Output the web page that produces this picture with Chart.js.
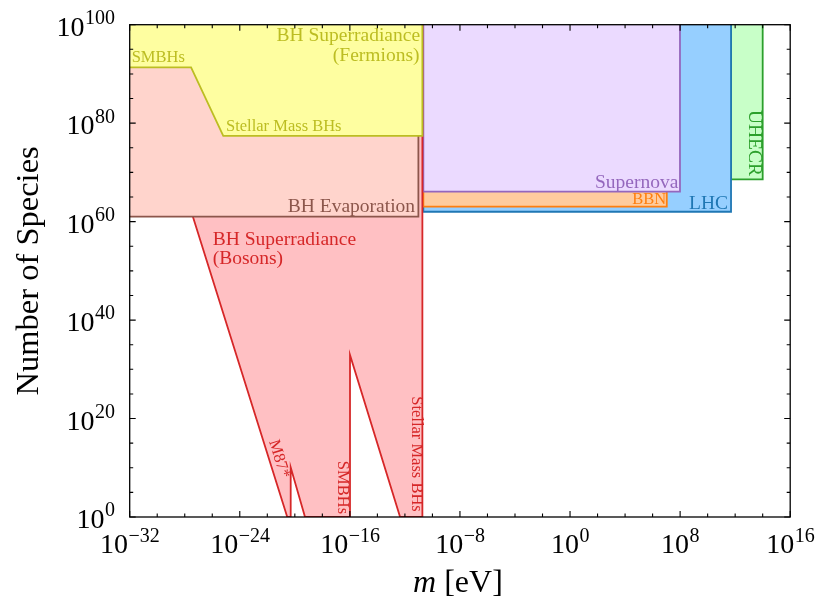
<!DOCTYPE html>
<html>
<head>
<meta charset="utf-8">
<title>Number of Species vs m</title>
<script src="https://cdn.jsdelivr.net/npm/chart.js@4.4.1/dist/chart.umd.min.js"></script>
<style>
  html, body { margin: 0; padding: 0; background: #fff; }
  canvas { display: block; }
</style>
</head>
<body>
<canvas id="speciesChart" width="830" height="615" style="width:830px;height:615px"></canvas>
<script>
// all values are log10 exponents: x is m in eV, y is number of species
const xTickExps = [-32, -24, -16, -8, 0, 8, 16];
const yTickExps = [0, 20, 40, 60, 80, 100];
const xMinorStep = 2;
const yMinorStep = 5;

const fermionsX = [-32, -27.54, -25.2, -10.73, -10.73];
const fermionsY = [91.35, 91.35, 77.4, 77.4, 100];

const evaporationX = [-32, -11.02, -11.02];
const evaporationY = [61.0, 61.0, 100];

const bosonsX = [-31.79, -20.55, -20.30, -20.30, -19.26, -15.99, -15.99, -12.35, -10.73, -10.73];
const bosonsY = [100, 0, 0, 10.1, 0, 0, 32.9, 0, 0, 100];

const supernovaX = [-10.66, -10.66, 7.99, 7.99];
const supernovaY = [100, 66.08, 66.08, 100];

const bbnX = [-10.66, -10.66, 7.03, 7.03];
const bbnY = [100, 63.03, 63.03, 100];

const lhcX = [-10.66, -10.66, 11.70, 11.70];
const lhcY = [100, 62.0, 62.0, 100];

const uhecrX = [11.70, 11.70, 14.0, 14.0];
const uhecrY = [100, 68.6, 68.6, 100];

const FONT = "'Liberation Serif', 'DejaVu Serif', serif";

const OLIVE = '#bcbd22', BROWN = '#8c564b', RED = '#d62728', PURPLE = '#9467bd',
      ORANGE = '#ff7f0e', BLUE = '#1f77b4', GREEN = '#2ca02c';

// text annotations, anchored in data exponents
const notes = [
    { text: 'BH Superradiance', x: -10.9, y: 96.75, color: OLIVE, size: 19.5, align: 'right' },
    { text: '(Fermions)', x: -10.94, y: 92.7, color: OLIVE, size: 19.5, align: 'right' },
    { text: 'SMBHs', x: -31.86, y: 92.5, color: OLIVE, size: 16.5, align: 'left' },
    { text: 'Stellar Mass BHs', x: -25.0, y: 78.5, color: OLIVE, size: 16.5, align: 'left' },
    { text: 'BH Evaporation', x: -11.26, y: 61.9, color: BROWN, size: 19.5, align: 'right' },
    { text: 'BH Superradiance', x: -25.97, y: 55.2, color: RED, size: 19.5, align: 'left' },
    { text: '(Bosons)', x: -25.97, y: 51.4, color: RED, size: 19.5, align: 'left' },
    { text: 'M87*', x: -21.15, y: 11.8, color: RED, size: 16.5, angle: 72.5 },
    { text: 'SMBHs', x: -16.53, y: 6.0, color: RED, size: 16.5, angle: 90 },
    { text: 'Stellar Mass BHs', x: -11.19, y: 12.8, color: RED, size: 16.5, angle: 90 },
    { text: 'Supernova', x: 7.87, y: 66.77, color: PURPLE, size: 19.5, align: 'right' },
    { text: 'BBN', x: 6.98, y: 63.58, color: ORANGE, size: 16.5, align: 'right' },
    { text: 'LHC', x: 11.48, y: 62.56, color: BLUE, size: 19.5, align: 'right' },
    { text: 'UHECR', x: 13.37, y: 75.97, color: GREEN, size: 19.5, angle: 90 }
];

function toPoints(xs, ys) {
    return xs.map((e, i) => ({ x: Math.pow(10, e), y: Math.pow(10, ys[i]) }));
}

function region(label, xs, ys, fillColor, lineColor, order) {
    return {
        label: label,
        data: toPoints(xs, ys),
        fill: 'end',
        backgroundColor: fillColor,
        borderColor: lineColor,
        borderWidth: 1.8,
        pointRadius: 0,
        tension: 0,
        order: order
    };
}

// draws "10" with a raised exponent
function drawPower(ctx, exp, x, y, align) {
    const base = '10';
    const sup = exp < 0 ? '\u2212' + Math.abs(exp) : String(exp);
    ctx.font = '28px ' + FONT;
    const wb = ctx.measureText(base).width;
    ctx.font = '20px ' + FONT;
    const ws = ctx.measureText(sup).width;
    const left = align === 'center' ? x - (wb + ws) / 2 : x - (wb + ws);
    ctx.textAlign = 'left';
    ctx.textBaseline = 'alphabetic';
    ctx.font = '28px ' + FONT;
    ctx.fillText(base, left, y);
    ctx.font = '20px ' + FONT;
    ctx.fillText(sup, left + wb + 0.5, y - 11.6);
}

const notesPlugin = {
    id: 'notes',
    afterDatasetsDraw(chart) {
        const { ctx, scales: { x, y } } = chart;
        ctx.save();
        notes.forEach(n => {
            const px = x.getPixelForValue(Math.pow(10, n.x));
            const py = y.getPixelForValue(Math.pow(10, n.y));
            ctx.fillStyle = n.color;
            ctx.font = n.size + 'px ' + FONT;
            if (n.angle) {
                ctx.save();
                ctx.translate(px, py);
                ctx.rotate(n.angle * Math.PI / 180);
                ctx.textAlign = 'center';
                ctx.textBaseline = 'middle';
                ctx.fillText(n.text, 0, 0);
                ctx.restore();
            } else {
                ctx.textAlign = n.align;
                ctx.textBaseline = 'alphabetic';
                ctx.fillText(n.text, px, py);
            }
        });
        ctx.restore();
    }
};

const framePlugin = {
    id: 'frame',
    afterDraw(chart) {
        const { ctx, chartArea: a, scales: { x, y } } = chart;
        ctx.save();
        ctx.strokeStyle = '#000';
        ctx.fillStyle = '#000';
        ctx.lineWidth = 1.3;
        ctx.strokeRect(a.left, a.top, a.right - a.left, a.bottom - a.top);

        // inward ticks on all four sides
        ctx.lineWidth = 1.1;
        ctx.beginPath();
        const xFirst = xTickExps[0], xLast = xTickExps[xTickExps.length - 1];
        for (let e = xFirst; e <= xLast; e += xMinorStep) {
            const px = x.getPixelForValue(Math.pow(10, e));
            const len = xTickExps.includes(e) ? 6 : 3.5;
            ctx.moveTo(px, a.bottom); ctx.lineTo(px, a.bottom - len);
            ctx.moveTo(px, a.top); ctx.lineTo(px, a.top + len);
        }
        const yFirst = yTickExps[0], yLast = yTickExps[yTickExps.length - 1];
        for (let e = yFirst; e <= yLast; e += yMinorStep) {
            const py = y.getPixelForValue(Math.pow(10, e));
            const len = yTickExps.includes(e) ? 6 : 3.5;
            ctx.moveTo(a.left, py); ctx.lineTo(a.left + len, py);
            ctx.moveTo(a.right, py); ctx.lineTo(a.right - len, py);
        }
        ctx.stroke();

        // tick labels
        xTickExps.forEach(e => {
            drawPower(ctx, e, x.getPixelForValue(Math.pow(10, e)), a.bottom + 36.3, 'center');
        });
        yTickExps.forEach(e => {
            drawPower(ctx, e, a.left - 15.2, y.getPixelForValue(Math.pow(10, e)) + 11, 'right');
        });

        // axis titles
        ctx.textBaseline = 'alphabetic';
        ctx.font = 'italic 32px ' + FONT;
        const mW = ctx.measureText('m').width;
        ctx.font = '32px ' + FONT;
        const restW = ctx.measureText(' [eV]').width;
        const cx = (a.left + a.right) / 2 - 2;
        ctx.textAlign = 'left';
        ctx.font = 'italic 32px ' + FONT;
        ctx.fillText('m', cx - (mW + restW) / 2, 592);
        ctx.font = '32px ' + FONT;
        ctx.fillText(' [eV]', cx - (mW + restW) / 2 + mW, 592);

        ctx.save();
        ctx.translate(38, (a.top + a.bottom) / 2);
        ctx.rotate(-Math.PI / 2);
        ctx.textAlign = 'center';
        ctx.font = '32.5px ' + FONT;
        ctx.fillText('Number of Species', 0, 0);
        ctx.restore();

        ctx.restore();
    }
};

const ctx = document.getElementById('speciesChart').getContext('2d');
new Chart(ctx, {
    type: 'line',
    data: {
        datasets: [
            region('BH Superradiance (Fermions)', fermionsX, fermionsY, '#fefea0', OLIVE, 1),
            region('BH Evaporation', evaporationX, evaporationY, '#ffd4cc', BROWN, 2),
            region('BH Superradiance (Bosons)', bosonsX, bosonsY, '#ffc0c3', RED, 3),
            region('Supernova', supernovaX, supernovaY, '#ebdaff', PURPLE, 4),
            region('BBN', bbnX, bbnY, '#ffcc9e', ORANGE, 5),
            region('LHC', lhcX, lhcY, '#96cfff', BLUE, 6),
            region('UHECR', uhecrX, uhecrY, '#c8ffc8', GREEN, 7)
        ]
    },
    options: {
        responsive: false,
        animation: false,
        layout: { padding: { left: 129.7, right: 39.8, top: 24.7, bottom: 98 } },
        plugins: {
            legend: { display: false },
            tooltip: { enabled: false }
        },
        scales: {
            x: {
                type: 'logarithmic',
                min: Math.pow(10, xTickExps[0]),
                max: Math.pow(10, xTickExps[xTickExps.length - 1]),
                display: false
            },
            y: {
                type: 'logarithmic',
                min: Math.pow(10, yTickExps[0]),
                max: Math.pow(10, yTickExps[yTickExps.length - 1]),
                display: false
            }
        }
    },
    plugins: [notesPlugin, framePlugin]
});
</script>
</body>
</html>
